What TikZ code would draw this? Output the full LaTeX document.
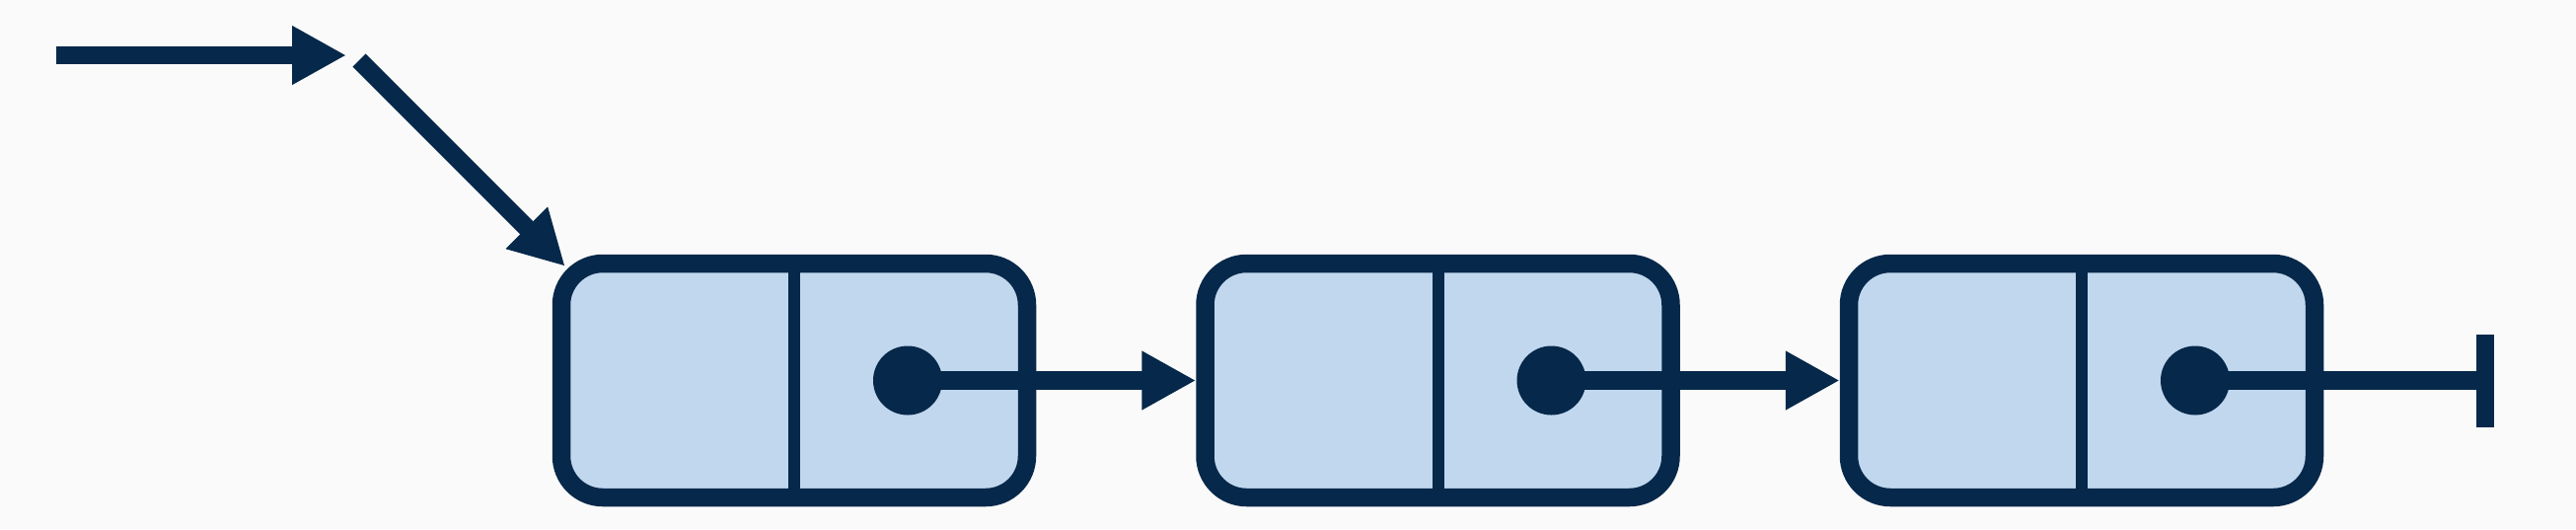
\documentclass[tikz,border=0pt]{standalone}
\usetikzlibrary{positioning, arrows.meta}
\definecolor{navy}{HTML}{06284A}
\definecolor{cell}{HTML}{C0D7EE}
\definecolor{paper}{HTML}{FAFAFA}
\tikzset{
>={Triangle[length=5.5mm, width=5.6mm]}, % filled arrow heads
link/.style={->, draw=navy, line width=1.85mm}, % the pointer arrows
listnode/.style={draw=navy, fill=cell, line width=1.85mm, rounded corners=4.2mm,
  minimum width=47.2mm, minimum height=23.7mm, inner sep=0pt}, % one list cell
dot/.style={circle, fill=navy, minimum size=7mm, inner sep=0pt}, % start of a pointer
node distance=16.2mm, % gap between two cells
}

\begin{document}
\begin{tikzpicture}
        \fill[paper] (0,0) rectangle (26.11,-5.36);
        \useasboundingbox (0,0) rectangle (26.11,-5.36);

        \coordinate (h0) at (0.57,-0.56);
        \coordinate (h1) at (3.51,-0.56);
        \coordinate (d0) at (3.64,-0.61);
        \coordinate (nil) at (25.28,-3.855);

        \node[listnode] (n1) at (8.05,-3.855) {};
        \node[listnode, right=of n1] (n2) {};
        \node[listnode, right=of n2] (n3) {};

        \foreach \i in {1,2,3} {
          \draw[navy, line width=1.2mm] (n\i.north) -- (n\i.south);
          \node[dot] (p\i) at ([xshift=11.5mm]n\i.center) {};
        }

        \draw[link] (h0) -- (h1);
        \draw[link] (d0) -- ([shift={(1.3mm,-1.2mm)}]n1.north west);
        \draw[link] (p1.center) -- (n2);
        \draw[link] (p2.center) -- (n3);
        \draw[link, -{Bar[width=9.4mm]}] (p3.center) -- (nil);
      \end{tikzpicture}
\end{document}
